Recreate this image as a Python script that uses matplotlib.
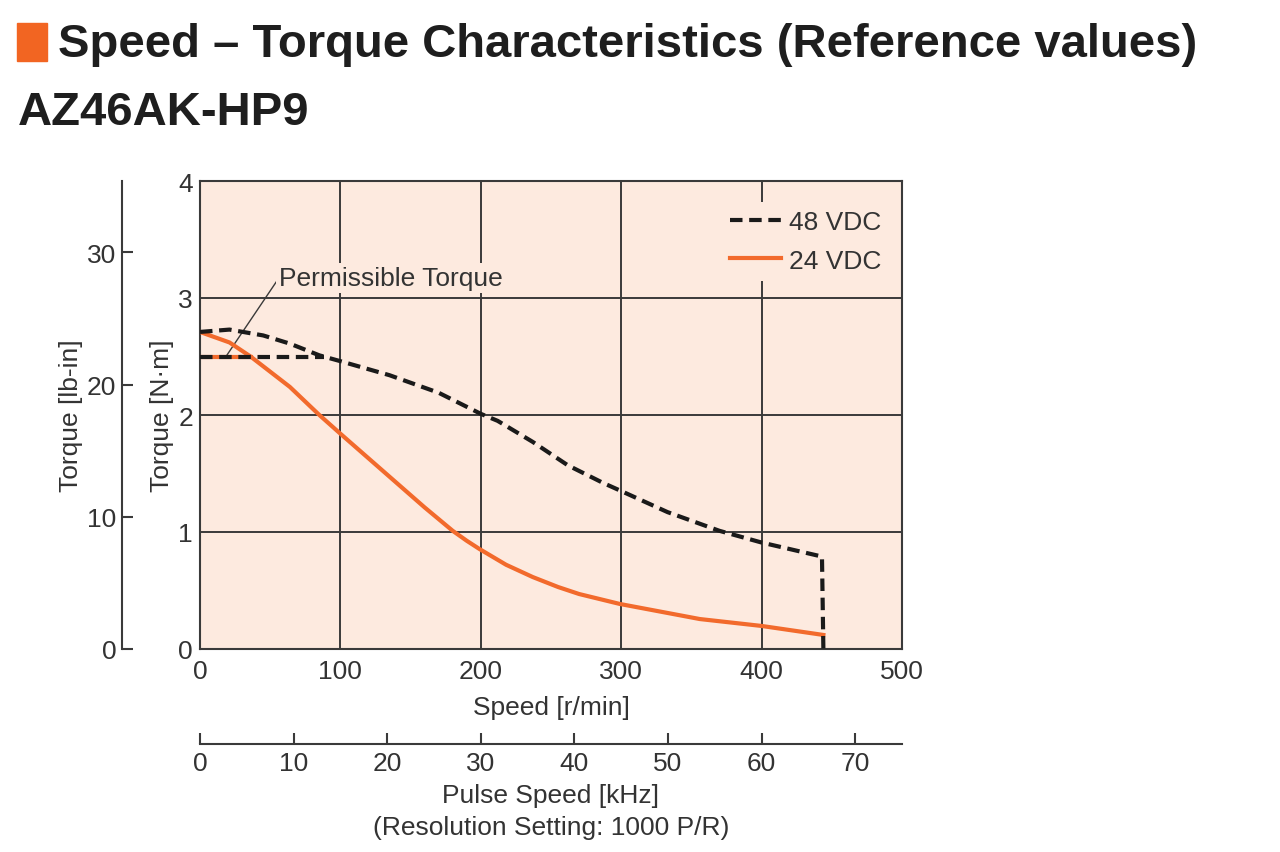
import matplotlib.pyplot as plt
from matplotlib.patches import Rectangle

# speed [r/min] vs torque [N·m]
speed_48 = [0, 21, 45, 64, 85, 100, 135, 170, 200, 212, 237, 262, 287, 300, 333, 370, 400, 443, 444]
torque_48 = [2.71, 2.73, 2.68, 2.61, 2.51, 2.46, 2.34, 2.19, 2.01, 1.95, 1.77, 1.57, 1.42, 1.35, 1.17, 1.01, 0.91, 0.79, 0.0]
speed_24 = [0, 21, 36, 64, 85, 100, 120, 140, 160, 170, 180, 190, 199, 218, 237, 255, 270, 299, 356, 400, 444]
torque_24 = [2.71, 2.62, 2.50, 2.24, 2.00, 1.84, 1.63, 1.42, 1.21, 1.11, 1.01, 0.925, 0.855, 0.72, 0.615, 0.53, 0.47, 0.385, 0.256, 0.197, 0.12]
permissible_speed = [0, 88]
permissible_torque = [2.5, 2.5]

speed_ticks = [0, 100, 200, 300, 400, 500]
nm_ticks = [0, 1, 2, 3, 4]
lbin_ticks = [0, 10, 20, 30]
khz_ticks = [0, 10, 20, 30, 40, 50, 60, 70]
NM_TO_LBIN = 8.851
RPM_TO_KHZ = 0.15  # 1000 P/R, gear 9

plt.rcParams["font.family"] = ["Liberation Sans Narrow", "Liberation Sans", "DejaVu Sans"]
ORANGE = "#f26a2c"
FACE = "#fdeadf"
DARK = "#3a3a3a"
TXT = "#333333"
FS = 19

fig = plt.figure(figsize=(12.8, 8.53), dpi=100)
W, H = 1280, 853

def box(x0, y0, x1, y1):
    return [x0 / W, 1 - y1 / H, (x1 - x0) / W, (y1 - y0) / H]

ax = fig.add_axes(box(200, 182, 902, 650))
ax.set_facecolor(FACE)
ax.set_xlim(0, 500)
ax.set_ylim(0, 4)
ax.set_xticks(speed_ticks)
ax.set_yticks(nm_ticks)
ax.tick_params(length=0, labelsize=FS, labelcolor=TXT, pad=7)
ax.tick_params(axis="y", pad=5)
ax.grid(True, color=DARK, linewidth=1.4)
ax.set_axisbelow(True)
for s in ax.spines.values():
    s.set_color(DARK)
    s.set_linewidth(1.5)
ax.set_xlabel("Speed [r/min]", fontsize=FS, color=TXT, labelpad=9)
ax.set_ylabel("Torque [N·m]", fontsize=FS, color=TXT, labelpad=3)

dash = (0, (3.0, 1.6))
ax.plot([0, 36], permissible_torque, color=ORANGE, lw=3, zorder=3)
ax.plot(speed_24, torque_24, color=ORANGE, lw=3, label="24 VDC", zorder=3)
ax.plot(speed_48, torque_48, color="#1a1a1a", lw=3, ls=dash, label="48 VDC", zorder=4)
ax.plot(permissible_speed, permissible_torque, color="#1a1a1a", lw=3, ls=dash, zorder=4)

# leader line and label for the permissible torque
ax.plot([18.5, 55], [2.5, 3.15], color=DARK, lw=1, zorder=2)
ax.text(56, 3.17, "Permissible Torque", fontsize=FS, color=TXT, va="center", ha="left",
        bbox=dict(boxstyle="square,pad=0.1", fc=FACE, ec="none"), zorder=2.5)

h, l = ax.get_legend_handles_labels()
leg = ax.legend(h[::-1], l[::-1], loc="upper right", bbox_to_anchor=(1.0, 1 - 8 / 468),
                fontsize=FS, frameon=True,
                facecolor=FACE, edgecolor="none", framealpha=1, handlelength=1.9,
                handletextpad=0.3, labelspacing=0.55, borderaxespad=0.5,
                borderpad=0.3, labelcolor=TXT)

# lb-in axis on the left
ax2 = fig.add_axes(box(122, 182, 123, 650))
ax2.set_ylim(0, 4 * NM_TO_LBIN)
ax2.set_yticks(lbin_ticks)
ax2.set_xticks([])
ax2.patch.set_visible(False)
for k in ("top", "right", "bottom"):
    ax2.spines[k].set_visible(False)
ax2.spines["left"].set_color(DARK)
ax2.spines["left"].set_linewidth(1.5)
ax2.tick_params(axis="y", direction="in", length=8, width=1.5, color=DARK,
                labelsize=FS, labelcolor=TXT, pad=4)
ax2.set_ylabel("Torque [lb-in]", fontsize=FS, color=TXT, labelpad=3)

# pulse speed axis below
ax3 = fig.add_axes(box(200, 744, 902, 745))
ax3.set_xlim(0, 500 * RPM_TO_KHZ)
ax3.set_xticks(khz_ticks)
ax3.set_yticks([])
ax3.patch.set_visible(False)
for k in ("top", "right", "left"):
    ax3.spines[k].set_visible(False)
ax3.spines["bottom"].set_color(DARK)
ax3.spines["bottom"].set_linewidth(1.5)
ax3.tick_params(axis="x", direction="in", length=8, width=1.5, color=DARK,
                labelsize=FS, labelcolor=TXT, pad=5)
ax3.set_xlabel("Pulse Speed [kHz]\n(Resolution Setting: 1000 P/R)", fontsize=FS,
               color=TXT, labelpad=6, linespacing=1.4)

# headings
fig.patches.append(Rectangle((17 / W, 1 - 62 / H), 30 / W, 38 / H,
                             transform=fig.transFigure, color="#f26522"))
fig.text(58 / W, 1 - 45 / H, "Speed – Torque Characteristics (Reference values)",
         fontsize=34, fontweight="bold", color="#1e1e1e", va="center",
         family=["Liberation Sans", "DejaVu Sans"])
fig.text(18 / W, 1 - 113 / H, "AZ46AK-HP9", fontsize=34, fontweight="bold",
         color="#1e1e1e", va="center", family=["Liberation Sans", "DejaVu Sans"])

fig.savefig("out.png", dpi=100, facecolor="white")
